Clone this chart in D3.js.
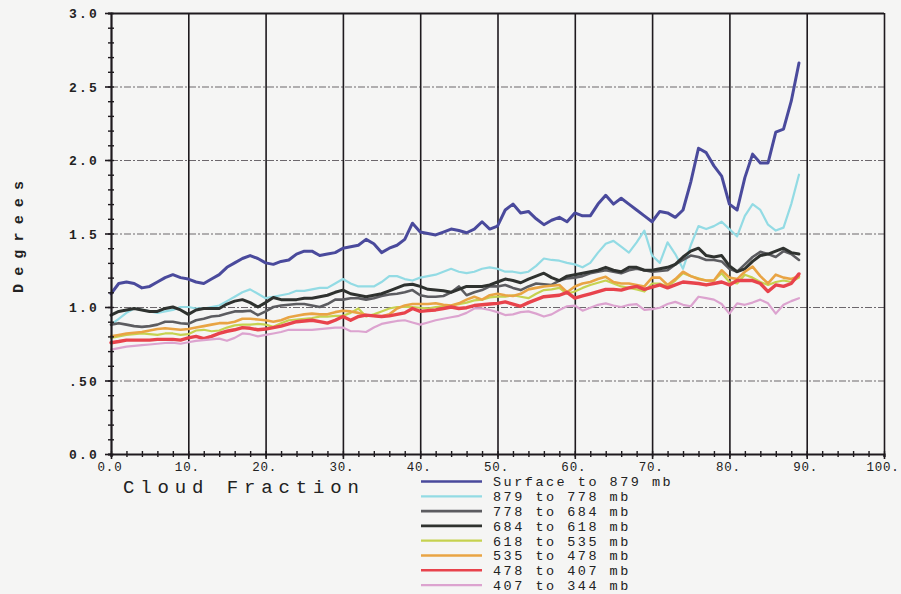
<!DOCTYPE html>
<html>
<head>
<meta charset="utf-8">
<script src="https://cdn.jsdelivr.net/npm/d3@7"></script>
<style>
  html, body { margin: 0; background: #f5f5f4; }
  svg { display: block; }
</style>
</head>
<body>
<svg id="chart" width="901" height="594"></svg>
<script>
// Cloud fraction (percent) sampled at each whole percent
const cloudFraction = [0,1,2,3,4,5,6,7,8,9,10,11,12,13,14,15,16,17,18,19,20,21,22,23,24,25,26,27,28,29,
  30,31,32,33,34,35,36,37,38,39,40,41,42,43,44,45,46,47,48,49,50,51,52,53,54,55,56,57,58,59,
  60,61,62,63,64,65,66,67,68,69,70,71,72,73,74,75,76,77,78,79,80,81,82,83,84,85,86,87,88,89];

// Degrees, one array per pressure layer
const surfaceTo879 = [1.09,1.16,1.17,1.16,1.13,1.14,1.17,1.20,1.22,1.20,1.19,1.17,1.16,1.19,1.22,1.27,1.30,1.33,1.35,1.33,
  1.30,1.29,1.31,1.32,1.36,1.38,1.38,1.35,1.36,1.37,1.40,1.41,1.42,1.46,1.43,1.37,1.40,1.42,1.46,1.57,
  1.51,1.50,1.49,1.51,1.53,1.52,1.505,1.53,1.58,1.53,1.55,1.66,1.70,1.64,1.65,1.60,1.56,1.59,1.61,1.58,
  1.64,1.62,1.62,1.70,1.76,1.70,1.74,1.70,1.66,1.62,1.58,1.65,1.64,1.61,1.66,1.85,2.08,2.05,1.96,1.89,
  1.70,1.66,1.88,2.04,1.98,1.98,2.19,2.21,2.40,2.66];
const mb879To778 = [0.88,0.92,0.96,0.99,0.98,0.97,0.96,0.97,0.98,1.00,1.00,0.99,0.99,1.00,1.01,1.04,1.07,1.10,1.12,1.09,
  1.06,1.07,1.08,1.09,1.11,1.11,1.12,1.13,1.13,1.16,1.19,1.16,1.14,1.14,1.14,1.17,1.21,1.21,1.19,1.18,
  1.20,1.21,1.22,1.24,1.26,1.24,1.23,1.24,1.26,1.27,1.26,1.24,1.24,1.23,1.24,1.28,1.33,1.32,1.315,1.30,
  1.29,1.27,1.30,1.37,1.43,1.45,1.41,1.37,1.44,1.52,1.35,1.30,1.44,1.36,1.26,1.42,1.55,1.53,1.55,1.58,
  1.53,1.48,1.62,1.70,1.66,1.56,1.52,1.54,1.70,1.90];
const mb778To684 = [0.88,0.89,0.88,0.87,0.865,0.87,0.88,0.90,0.90,0.89,0.885,0.91,0.92,0.935,0.94,0.955,0.97,0.97,0.975,0.945,
  0.97,1.00,1.01,1.015,1.02,1.02,1.01,1.00,1.02,1.05,1.05,1.06,1.06,1.05,1.06,1.075,1.085,1.09,1.10,1.115,
  1.08,1.07,1.07,1.075,1.10,1.14,1.08,1.10,1.115,1.14,1.14,1.15,1.13,1.115,1.14,1.16,1.155,1.15,1.18,1.195,
  1.20,1.21,1.23,1.24,1.25,1.24,1.23,1.25,1.26,1.25,1.24,1.245,1.25,1.29,1.32,1.35,1.34,1.32,1.32,1.31,
  1.26,1.24,1.29,1.34,1.375,1.36,1.34,1.38,1.36,1.32];
const mb684To618 = [0.945,0.97,0.98,0.99,0.98,0.97,0.97,0.99,1.00,0.98,0.95,0.98,0.99,0.99,0.99,1.02,1.04,1.05,1.03,1.00,
  1.03,1.065,1.05,1.05,1.05,1.06,1.06,1.07,1.08,1.10,1.115,1.09,1.08,1.07,1.08,1.09,1.11,1.13,1.15,1.155,
  1.14,1.12,1.115,1.11,1.10,1.12,1.14,1.14,1.14,1.15,1.17,1.19,1.18,1.165,1.19,1.21,1.23,1.20,1.18,1.21,
  1.22,1.23,1.24,1.25,1.27,1.25,1.24,1.27,1.27,1.25,1.25,1.26,1.27,1.29,1.34,1.38,1.40,1.35,1.34,1.35,
  1.28,1.24,1.26,1.31,1.35,1.36,1.38,1.40,1.37,1.36];
const mb618To535 = [0.79,0.80,0.81,0.815,0.82,0.815,0.81,0.82,0.82,0.81,0.815,0.84,0.845,0.835,0.84,0.86,0.875,0.88,0.88,0.885,
  0.88,0.865,0.89,0.91,0.915,0.92,0.925,0.935,0.935,0.94,0.94,0.96,0.99,0.935,0.95,0.97,0.99,1.00,1.00,1.00,
  0.995,0.99,1.00,1.005,1.01,1.02,1.03,1.045,1.05,1.065,1.07,1.07,1.08,1.07,1.06,1.09,1.115,1.12,1.13,1.09,
  1.105,1.13,1.15,1.165,1.18,1.16,1.14,1.13,1.12,1.105,1.16,1.16,1.14,1.18,1.23,1.21,1.195,1.18,1.18,1.23,
  1.17,1.16,1.22,1.20,1.17,1.15,1.17,1.18,1.17,1.20];
const mb535To478 = [0.80,0.81,0.82,0.825,0.83,0.84,0.85,0.855,0.85,0.845,0.85,0.86,0.87,0.88,0.89,0.89,0.90,0.92,0.92,0.915,
  0.91,0.90,0.91,0.93,0.94,0.95,0.955,0.95,0.95,0.965,0.975,0.97,0.96,0.945,0.94,0.935,0.95,0.99,1.01,1.02,
  1.02,1.02,1.025,1.015,1.01,1.025,1.05,1.07,1.05,1.08,1.09,1.08,1.075,1.09,1.12,1.13,1.14,1.145,1.15,1.10,
  1.14,1.16,1.17,1.19,1.205,1.17,1.16,1.16,1.15,1.14,1.20,1.20,1.15,1.19,1.24,1.21,1.19,1.18,1.18,1.25,
  1.20,1.19,1.24,1.275,1.21,1.16,1.22,1.20,1.19,1.21];
const mb478To407 = [0.757,0.765,0.775,0.775,0.775,0.775,0.78,0.78,0.78,0.775,0.79,0.80,0.785,0.80,0.82,0.835,0.845,0.86,0.855,0.845,
  0.85,0.86,0.87,0.885,0.90,0.905,0.91,0.90,0.89,0.91,0.935,0.91,0.935,0.945,0.94,0.935,0.94,0.95,0.96,0.99,
  0.97,0.975,0.98,0.99,1.00,0.99,0.995,1.01,1.015,1.02,1.025,1.035,1.02,1.005,1.03,1.05,1.07,1.075,1.08,1.10,
  1.06,1.075,1.09,1.105,1.12,1.12,1.115,1.13,1.14,1.12,1.135,1.15,1.13,1.15,1.17,1.165,1.16,1.15,1.16,1.17,
  1.15,1.18,1.18,1.18,1.16,1.105,1.15,1.14,1.16,1.225];
const mb407To344 = [0.71,0.72,0.73,0.735,0.74,0.745,0.75,0.755,0.757,0.75,0.76,0.77,0.775,0.78,0.785,0.77,0.79,0.82,0.815,0.80,
  0.81,0.82,0.83,0.845,0.845,0.845,0.845,0.85,0.855,0.86,0.86,0.835,0.835,0.83,0.86,0.885,0.895,0.905,0.91,0.895,
  0.88,0.895,0.91,0.92,0.93,0.94,0.96,0.99,0.99,0.98,0.965,0.945,0.95,0.965,0.97,0.955,0.935,0.95,0.98,1.005,
  1.01,0.975,0.995,1.015,1.025,1.01,1.00,1.015,1.02,0.98,0.985,0.995,1.02,1.035,1.015,1.005,1.07,1.06,1.05,1.02,
  0.955,1.025,1.015,1.03,1.05,1.025,0.955,1.015,1.04,1.06];

const layerNames = ["Surface to 879 mb", "879 to 778 mb", "778 to 684 mb", "684 to 618 mb",
  "618 to 535 mb", "535 to 478 mb", "478 to 407 mb", "407 to 344 mb"];

const yTickValues = [0, 0.5, 1.0, 1.5, 2.0, 2.5, 3.0];
const yTickLabels = ["0.0", ".50", "1.0", "1.5", "2.0", "2.5", "3.0"];
const xTickValues = [0, 10, 20, 30, 40, 50, 60, 70, 80, 90, 100];
const xTickLabels = ["0.0", "10.", "20.", "30.", "40.", "50.", "60.", "70.", "80.", "90.", "100."];

// ---- drawing ----
const series = [surfaceTo879, mb879To778, mb778To684, mb684To618, mb618To535, mb535To478, mb478To407, mb407To344];
const styles = [
  { color: "#4a4a9c", width: 3.0 },
  { color: "#93dbe4", width: 2.2 },
  { color: "#5c5c60", width: 2.6 },
  { color: "#2f322f", width: 3.0 },
  { color: "#c6d250", width: 2.2 },
  { color: "#e9a444", width: 2.6 },
  { color: "#e8434c", width: 3.4 },
  { color: "#dca3cf", width: 2.2 }
];

const svg = d3.select("#chart");
const x = d3.scaleLinear().domain([0, 100]).range([111, 884]);
const y = d3.scaleLinear().domain([0, 3]).range([454, 13]);
const ink = "#1e1a1e";
const mono = "'Liberation Mono', 'DejaVu Sans Mono', monospace";

// horizontal dashed grid
svg.append("g")
  .attr("transform", `translate(${x(0)},0)`)
  .call(d3.axisRight(y).tickValues([0.5, 1.0, 1.5, 2.0, 2.5]).tickSize(x(100) - x(0)).tickFormat(""))
  .call(g => g.select(".domain").remove())
  .call(g => g.selectAll(".tick line").attr("stroke", "#4a444a").attr("stroke-width", 1)
    .attr("stroke-dasharray", "7,2,2,2").attr("opacity", 0.8));

// top border at 3.0
svg.append("g")
  .attr("transform", `translate(${x(0)},0)`)
  .call(d3.axisRight(y).tickValues([3.0]).tickSize(x(100) - x(0)).tickFormat(""))
  .call(g => g.select(".domain").remove())
  .call(g => g.selectAll(".tick line").attr("stroke", ink).attr("stroke-width", 1.8));

// vertical solid grid
svg.append("g")
  .attr("transform", `translate(0,${y(0)})`)
  .call(d3.axisTop(x).tickValues([10, 20, 30, 40, 50, 60, 70, 80, 90, 100]).tickSize(y(0) - y(3)).tickFormat(""))
  .call(g => g.select(".domain").remove())
  .call(g => g.selectAll(".tick line").attr("stroke", ink).attr("stroke-width", 1.6));

// data lines
const line = d3.line()
  .x((d, i) => x(cloudFraction[i]))
  .y(d => y(d));

svg.append("g")
  .selectAll("path")
  .data(series)
  .join("path")
  .attr("d", line)
  .attr("fill", "none")
  .attr("stroke", (d, i) => styles[i].color)
  .attr("stroke-width", (d, i) => styles[i].width)
  .attr("stroke-linejoin", "round")
  .attr("stroke-linecap", "round");

// y axis: minor ticks every 0.1, labelled ticks every 0.5
const yMinor = d3.range(0, 31).map(k => k / 10);
svg.append("g")
  .attr("transform", `translate(${x(0)},0)`)
  .call(d3.axisLeft(y).tickValues(yMinor).tickSize(3).tickFormat(""))
  .call(g => g.select(".domain").attr("stroke", ink).attr("stroke-width", 2.2))
  .call(g => g.selectAll(".tick line").attr("stroke", ink).attr("stroke-width", 1.4).attr("x1", 3));

svg.append("g")
  .attr("transform", `translate(${x(0)},0)`)
  .call(d3.axisLeft(y).tickValues(yTickValues).tickSize(6).tickPadding(6)
    .tickFormat((d, i) => yTickLabels[i]))
  .call(g => g.select(".domain").remove())
  .call(g => g.selectAll(".tick line").attr("stroke", ink).attr("stroke-width", 1.6))
  .call(g => g.selectAll(".tick text")
    .attr("fill", "#222")
    .attr("font-family", mono)
    .attr("font-weight", "bold")
    .attr("font-size", 13)
    .attr("letter-spacing", 2.2)
    .attr("dy", "0.35em"));

// x axis: minor ticks every 2, labelled ticks every 10
const xMinor = d3.range(0, 51).map(k => k * 2);
svg.append("g")
  .attr("transform", `translate(0,${y(0)})`)
  .call(d3.axisBottom(x).tickValues(xMinor).tickSize(3).tickFormat(""))
  .call(g => g.select(".domain").attr("stroke", ink).attr("stroke-width", 2.2))
  .call(g => g.selectAll(".tick line").attr("stroke", ink).attr("stroke-width", 1.4).attr("y1", -3));

svg.append("g")
  .attr("transform", `translate(0,${y(0)})`)
  .call(d3.axisBottom(x).tickValues(xTickValues).tickSize(5).tickPadding(3)
    .tickFormat((d, i) => xTickLabels[i]))
  .call(g => g.select(".domain").remove())
  .call(g => g.selectAll(".tick line").attr("stroke", ink).attr("stroke-width", 1.6))
  .call(g => g.selectAll(".tick text")
    .attr("fill", "#222")
    .attr("font-family", mono)
    .attr("font-size", 12.5)
    .attr("letter-spacing", 0.8)
    .attr("dx", -1.5)
    .attr("text-anchor", "middle"));

// axis titles
svg.append("text")
  .attr("x", 123)
  .attr("y", 493)
  .attr("font-family", mono)
  .attr("font-size", 19)
  .attr("fill", "#222")
  .attr("textLength", 236)
  .attr("lengthAdjust", "spacing")
  .text("Cloud Fraction");

svg.append("text")
  .attr("transform", "translate(23,293) rotate(-90)")
  .attr("font-family", mono)
  .attr("font-size", 15)
  .attr("font-weight", "bold")
  .attr("fill", "#222")
  .attr("textLength", 112)
  .attr("lengthAdjust", "spacing")
  .text("Degrees");

// legend
const legend = svg.append("g").attr("transform", "translate(421,481.5)");
const rows = legend.selectAll("g")
  .data(layerNames)
  .join("g")
  .attr("transform", (d, i) => `translate(0,${i * 14.8})`);
rows.append("line")
  .attr("x1", 0).attr("x2", 61)
  .attr("stroke", (d, i) => styles[i].color)
  .attr("stroke-width", (d, i) => Math.min(styles[i].width, 2.6));
rows.append("text")
  .attr("x", 72)
  .attr("dy", "0.36em")
  .attr("font-family", mono)
  .attr("font-size", 13.5)
  .attr("letter-spacing", 2.5)
  .attr("fill", "#222")
  .text(d => d);
</script>
</body>
</html>
